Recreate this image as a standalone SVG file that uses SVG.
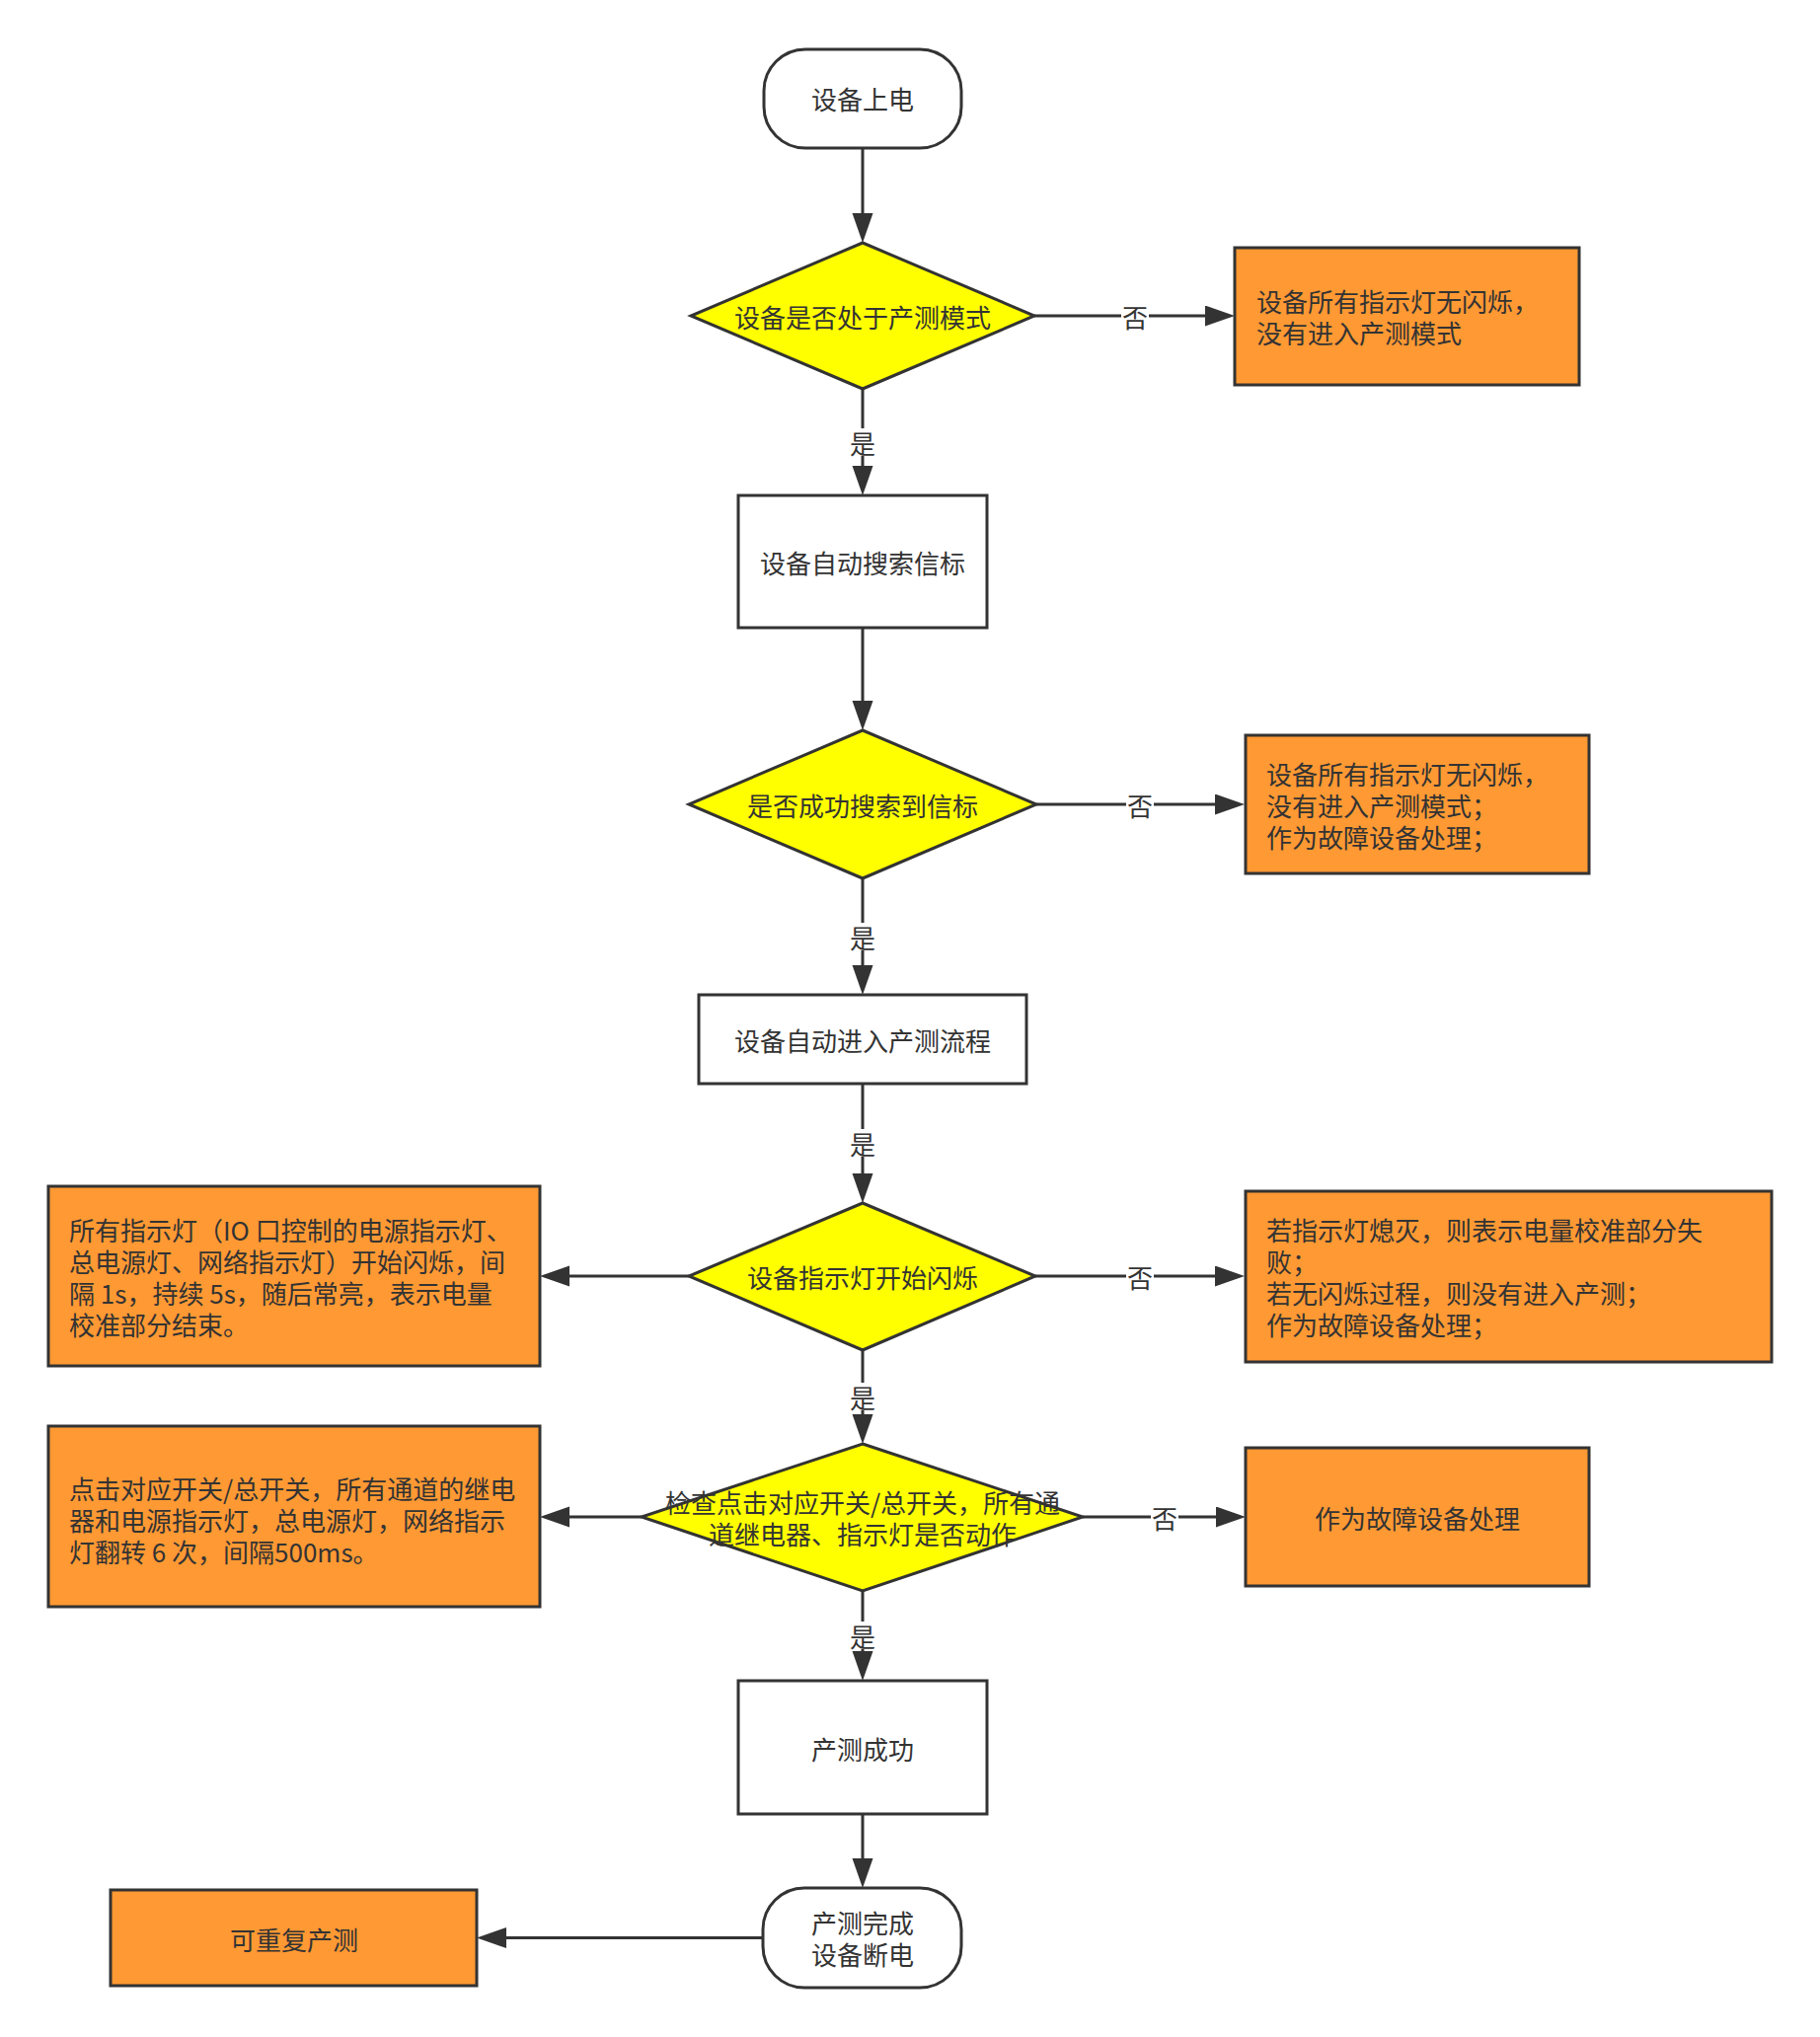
<svg xmlns="http://www.w3.org/2000/svg" width="1844" height="2064" viewBox="0 0 1844 2064">
<style>
.s{stroke:#333333;stroke-width:3}
.w{fill:#ffffff}
.y{fill:#ffff00}
.o{fill:#ff9933}
.c{stroke:#333333;stroke-width:3;fill:none}
text{font-family:"Noto Sans CJK SC","Noto Sans",sans-serif;font-size:26px;fill:#333333}
.m{text-anchor:middle}
.lb{fill:#ffffff}
</style>
<defs>
<marker id="ah" markerUnits="userSpaceOnUse" markerWidth="32" markerHeight="22" refX="0" refY="10.5" orient="auto">
<path d="M0,0 L30,10.5 L0,21 Z" fill="#333333"/>
</marker>
</defs>
<rect width="1844" height="2064" fill="#ffffff"/>
<g id="connectors">
<path class="c" d="M874,150 V216" marker-end="url(#ah)"/>
<path class="c" d="M874,394 V472" marker-end="url(#ah)"/>
<path class="c" d="M874,636 V710" marker-end="url(#ah)"/>
<path class="c" d="M874,890 V978" marker-end="url(#ah)"/>
<path class="c" d="M874,1098 V1189" marker-end="url(#ah)"/>
<path class="c" d="M874,1368 V1433" marker-end="url(#ah)"/>
<path class="c" d="M874,1612 V1673" marker-end="url(#ah)"/>
<path class="c" d="M874,1838 V1883" marker-end="url(#ah)"/>
<path class="c" d="M1048,320 H1221" marker-end="url(#ah)"/>
<path class="c" d="M1050,815 H1231" marker-end="url(#ah)"/>
<path class="c" d="M1049,1293 H1231" marker-end="url(#ah)"/>
<path class="c" d="M698,1293 H577" marker-end="url(#ah)"/>
<path class="c" d="M1097,1537 H1232" marker-end="url(#ah)"/>
<path class="c" d="M650,1537 H577" marker-end="url(#ah)"/>
<path class="c" d="M773,1963.5 H513" marker-end="url(#ah)"/>
<rect class="lb" x="860" y="434" width="28" height="28"/>
<text class="m" x="874" y="460">是</text>
<rect class="lb" x="860" y="935" width="28" height="28"/>
<text class="m" x="874" y="961">是</text>
<rect class="lb" x="860" y="1144" width="28" height="28"/>
<text class="m" x="874" y="1170">是</text>
<rect class="lb" x="860" y="1401" width="28" height="28"/>
<text class="m" x="874" y="1427">是</text>
<rect class="lb" x="860" y="1643" width="28" height="28"/>
<text class="m" x="874" y="1669">是</text>
<rect class="lb" x="1136" y="306" width="28" height="28"/>
<text class="m" x="1150" y="332">否</text>
<rect class="lb" x="1141" y="801" width="28" height="28"/>
<text class="m" x="1155" y="827">否</text>
<rect class="lb" x="1141" y="1279" width="28" height="28"/>
<text class="m" x="1155" y="1305">否</text>
<rect class="lb" x="1166" y="1523" width="28" height="28"/>
<text class="m" x="1180" y="1549">否</text>
</g>
<g id="start">
<rect class="s w" x="774" y="50" width="200" height="100" rx="42" ry="42"/>
<text class="m" x="874" y="111">设备上电</text>
</g>
<g id="d1">
<polygon class="s y" points="874,246 1048,320 874,394 700,320"/>
<text class="m" x="874" y="332">设备是否处于产测模式</text>
</g>
<g id="o1">
<rect class="s o" x="1251" y="251" width="349" height="139"/>
<text x="1273" y="316">设备所有指示灯无闪烁，</text>
<text x="1273" y="348">没有进入产测模式</text>
</g>
<g id="b2">
<rect class="s w" x="748" y="502" width="252" height="134"/>
<text class="m" x="874" y="581">设备自动搜索信标</text>
</g>
<g id="d2">
<polygon class="s y" points="874,740 1050,815 874,890 698,815"/>
<text class="m" x="874" y="827">是否成功搜索到信标</text>
</g>
<g id="o2">
<rect class="s o" x="1262" y="745" width="348" height="140"/>
<text x="1283" y="795">设备所有指示灯无闪烁，</text>
<text x="1283" y="827">没有进入产测模式；</text>
<text x="1283" y="859">作为故障设备处理；</text>
</g>
<g id="b3">
<rect class="s w" x="708" y="1008" width="332" height="90"/>
<text class="m" x="874" y="1065">设备自动进入产测流程</text>
</g>
<g id="d3">
<polygon class="s y" points="874,1219 1049,1293 874,1368 698,1293"/>
<text class="m" x="874" y="1305">设备指示灯开始闪烁</text>
</g>
<g id="o3l">
<rect class="s o" x="49" y="1202" width="498" height="182"/>
<text x="70" y="1257">所有指示灯（IO 口控制的电源指示灯、</text>
<text x="70" y="1289">总电源灯、网络指示灯）开始闪烁，间</text>
<text x="70" y="1321">隔 1s，持续 5s，随后常亮，表示电量</text>
<text x="70" y="1353">校准部分结束。</text>
</g>
<g id="o3r">
<rect class="s o" x="1262" y="1207" width="533" height="173"/>
<text x="1283" y="1257">若指示灯熄灭，则表示电量校准部分失</text>
<text x="1283" y="1289">败；</text>
<text x="1283" y="1321">若无闪烁过程，则没有进入产测；</text>
<text x="1283" y="1353">作为故障设备处理；</text>
</g>
<g id="d4">
<polygon class="s y" points="874,1463 1097,1537 874,1612 650,1537"/>
<text class="m" x="874" y="1533">检查点击对应开关/总开关，所有通</text>
<text class="m" x="874" y="1565">道继电器、指示灯是否动作</text>
</g>
<g id="o4l">
<rect class="s o" x="49" y="1445" width="498" height="183"/>
<text x="70" y="1519">点击对应开关/总开关，所有通道的继电</text>
<text x="70" y="1551">器和电源指示灯，总电源灯，网络指示</text>
<text x="70" y="1583">灯翻转 6 次，间隔500ms。</text>
</g>
<g id="o4r">
<rect class="s o" x="1262" y="1467" width="348" height="140"/>
<text class="m" x="1436" y="1549">作为故障设备处理</text>
</g>
<g id="b5">
<rect class="s w" x="748" y="1703" width="252" height="135"/>
<text class="m" x="874" y="1783">产测成功</text>
</g>
<g id="end">
<rect class="s w" x="773" y="1913" width="201" height="101" rx="42" ry="42"/>
<text class="m" x="874" y="1959">产测完成</text>
<text class="m" x="874" y="1991">设备断电</text>
</g>
<g id="repeat">
<rect class="s o" x="112" y="1915" width="371" height="97"/>
<text class="m" x="298" y="1976">可重复产测</text>
</g>
</svg>
